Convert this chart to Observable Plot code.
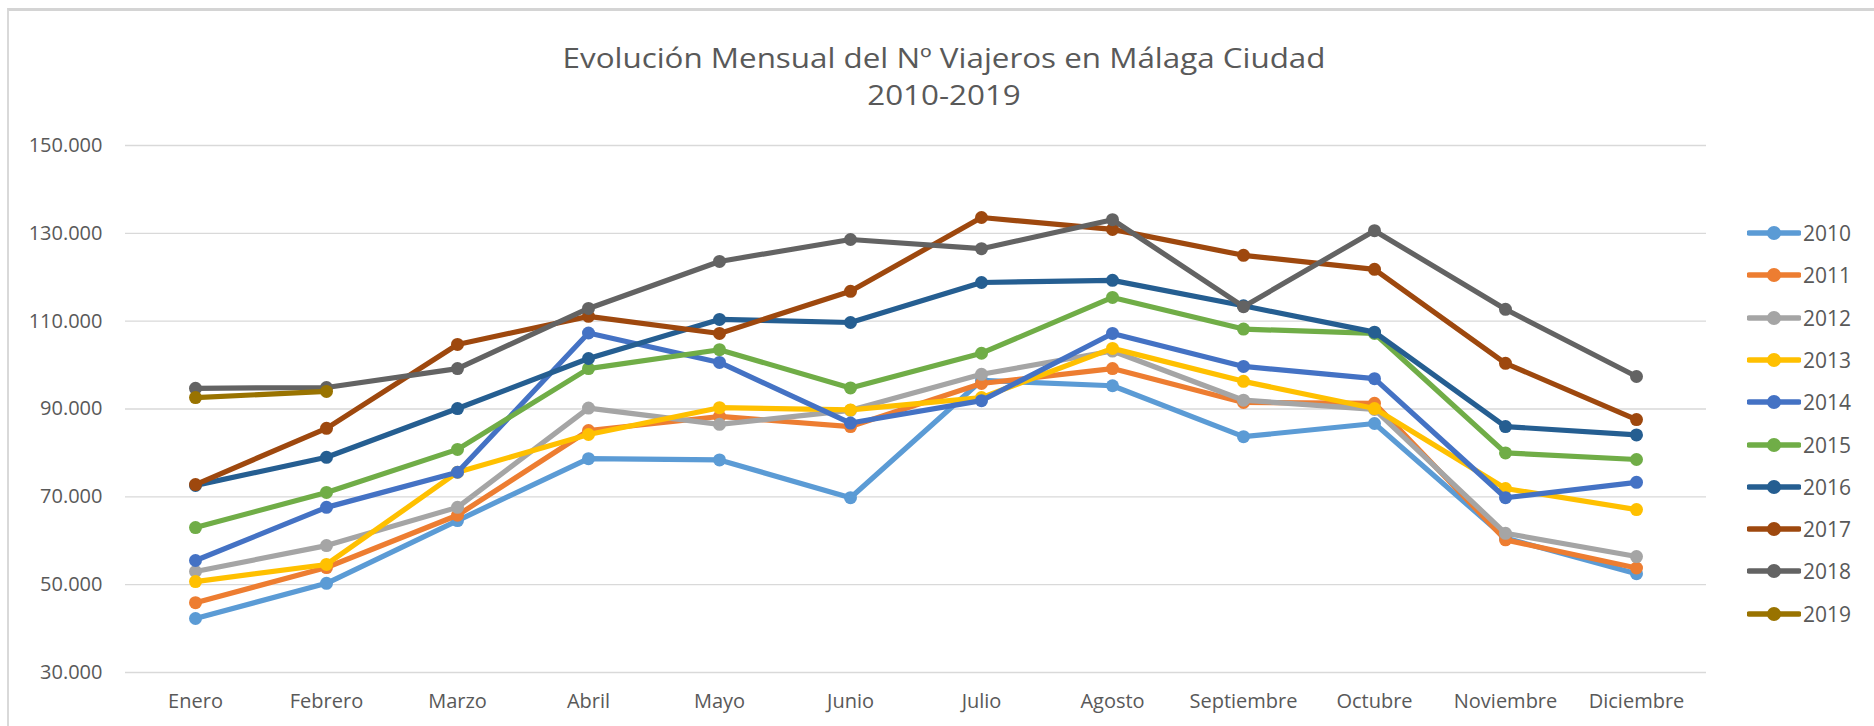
<!DOCTYPE html>
<html>
<head>
<meta charset="utf-8">
<script src="https://cdn.jsdelivr.net/npm/d3@7"></script>
<script src="https://cdn.jsdelivr.net/npm/@observablehq/plot@0.6"></script>
<style>
  html, body { margin: 0; padding: 0; background: #fff; }
  #page { position: relative; width: 1874px; height: 726px; overflow: hidden; background: #fff; font-family: "Open Sans", sans-serif; color: #595959; }
  #frame { position: absolute; left: 7px; top: 8px; right: -4px; bottom: -4px; border-left: 2px solid #d9d9d9; border-top: 3px solid #d4d4d4; }
  .title { position: absolute; left: 944px; transform: translateX(-50%) scaleX(1.12); white-space: nowrap; font-weight: 400; color: #595959; }
  #t1 { top: 38px; font-size: 28px; }
  #t2 { top: 75px; font-size: 28px; }
  #chart { position: absolute; left: 0; top: 110px; }
  #legend { position: absolute; left: 1747px; top: 0; }
  .lg { position: absolute; left: 0; display: flex; align-items: center; height: 30px; white-space: nowrap; }
  .lg span { font-size: 21px; color: #595959; margin-left: 2px; }
</style>
</head>
<body>
<div id="page">
  <div id="frame"></div>
  <div class="title" id="t1">Evolución Mensual del Nº Viajeros en Málaga Ciudad</div>
  <div class="title" id="t2">2010-2019</div>
  <div id="chart"></div>
  <div id="legend"></div>
</div>
<script>
const months = ["Enero","Febrero","Marzo","Abril","Mayo","Junio","Julio","Agosto","Septiembre","Octubre","Noviembre","Diciembre"];
const years = ["2010","2011","2012","2013","2014","2015","2016","2017","2018","2019"];
const colors = ["#5B9BD5","#ED7D31","#A5A5A5","#FFC000","#4472C4","#70AD47","#255E91","#9E480E","#636363","#997300"];
const yTicks = [30000, 50000, 70000, 90000, 110000, 130000, 150000];

const v2010 = [42300, 50300, 64600, 78700, 78400, 69800, 96500, 95300, 83700, 86700, 60600, 52500];
const v2011 = [45900, 53900, 65800, 85100, 88300, 86000, 95800, 99200, 91500, 91300, 60200, 53800];
const v2012 = [53000, 58900, 67600, 90200, 86500, 89700, 97900, 103200, 92000, 89900, 61700, 56400];
const v2013 = [50700, 54600, 75600, 84200, 90300, 89800, 92600, 103800, 96300, 90100, 71900, 67100];
const v2014 = [55500, 67600, 75600, 107300, 100600, 86800, 91900, 107200, 99700, 96900, 69800, 73300];
const v2015 = [63000, 71000, 80800, 99200, 103500, 94800, 102700, 115400, 108200, 107200, 80000, 78500];
const v2016 = [72600, 79000, 90100, 101500, 110400, 109700, 118800, 119300, 113500, 107500, 86000, 84100];
const v2017 = [72800, 85600, 104700, 111100, 107200, 116800, 133600, 130900, 125000, 121800, 100400, 87600];
const v2018 = [94700, 94900, 99200, 112900, 123600, 128600, 126500, 133100, 113300, 130600, 112700, 97400];
const v2019 = [92600, 94000];

const series = [v2010, v2011, v2012, v2013, v2014, v2015, v2016, v2017, v2018, v2019];

const esLocale = d3.formatLocale({decimal: ",", thousands: ".", grouping: [3], currency: ["", " €"]});
const fmt = esLocale.format(",d");

const marks = [
  Plot.ruleY(yTicks, {stroke: "#d9d9d9", strokeWidth: 1.4}),
  Plot.axisY({ticks: yTicks, tickSize: 0, tickPadding: 23, tickFormat: fmt, label: null, fontSize: 20}),
  Plot.axisX({tickSize: 0, tickPadding: 21, label: null, fontSize: 20})
];
years.forEach((yr, i) => {
  const rows = series[i].map((v, j) => ({year: yr, month: months[j], value: v}));
  marks.push(Plot.line(rows, {x: "month", y: "value", stroke: "year", strokeWidth: 5.2, strokeLinejoin: "round", strokeLinecap: "round"}));
  marks.push(Plot.dot(rows, {x: "month", y: "value", fill: "year", r: 6.5, stroke: "none"}));
});

const chart = Plot.plot({
  width: 1874,
  height: 616,
  marginTop: 35,
  marginBottom: 54,
  marginLeft: 125,
  marginRight: 168,
  style: {fontFamily: "Open Sans, sans-serif", fontSize: "20px", color: "#595959", background: "transparent", overflow: "visible"},
  x: {type: "point", domain: months, padding: 0.5},
  y: {domain: [30000, 150000]},
  color: {domain: years, range: colors},
  marks
});
document.getElementById("chart").appendChild(chart);

const legend = document.getElementById("legend");
years.forEach((yr, i) => {
  const row = document.createElement("div");
  row.className = "lg";
  const cy = 233 + i * 42.3;
  row.style.top = (cy - 15) + "px";
  row.innerHTML = `<svg width="54" height="16"><line x1="2" y1="8" x2="52" y2="8" stroke="${colors[i]}" stroke-width="5.5" stroke-linecap="round"/><circle cx="27" cy="8" r="7" fill="${colors[i]}"/></svg><span>${yr}</span>`;
  legend.appendChild(row);
});
</script>
</body>
</html>
